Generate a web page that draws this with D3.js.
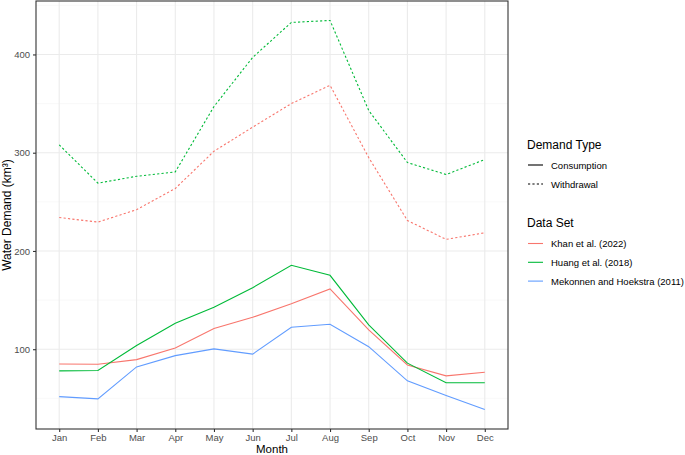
<!DOCTYPE html>
<html>
<head>
<meta charset="utf-8">
<script src="https://cdn.jsdelivr.net/npm/d3@7"></script>
<style>
  body { margin: 0; background: #fff; }
  text { font-family: "Liberation Sans", Arial, sans-serif; }
</style>
</head>
<body>
<svg width="685" height="455"></svg>
<script>
var months = ["Jan", "Feb", "Mar", "Apr", "May", "Jun", "Jul", "Aug", "Sep", "Oct", "Nov", "Dec"];
var datasets = ["Khan et al. (2022)", "Huang et al. (2018)", "Mekonnen and Hoekstra (2011)"];
var colors = ["#F8766D", "#00BA38", "#619CFF"];
var demandTypes = ["Consumption", "Withdrawal"];
var yTicks = [100, 200, 300, 400];

var khanConsumption = [85, 84.7, 89.4, 101.3, 121, 132.5, 146.3, 161.3, 119.6, 84, 72.9, 76.6];
var huangConsumption = [78, 78.3, 103.7, 126.4, 142.7, 162.6, 185.4, 175.2, 124.7, 85.8, 65.8, 65.8];
var mekonnenConsumption = [51.8, 49.5, 82, 93.5, 100.3, 95, 122.4, 125.4, 102.6, 67.8, 52.8, 38.6];
var khanWithdrawal = [234, 229.4, 242, 263.6, 301.5, 326, 350, 368.6, 295, 231, 211.8, 218.5];
var huangWithdrawal = [308, 269, 276, 280.5, 347, 397, 432.6, 434.6, 343, 290, 277.8, 293];

var series = [
  { set: 0, type: 1, values: khanWithdrawal },
  { set: 1, type: 1, values: huangWithdrawal },
  { set: 0, type: 0, values: khanConsumption },
  { set: 1, type: 0, values: huangConsumption },
  { set: 2, type: 0, values: mekonnenConsumption }
];

var svg = d3.select("svg");
var pLeft = 36, pRight = 508, pTop = 1, pBottom = 429;

var x = d3.scalePoint().domain(months).range([pLeft, pRight]).padding(0.6);
var allVals = [].concat(khanConsumption, huangConsumption, mekonnenConsumption, khanWithdrawal, huangWithdrawal);
var ymin = d3.min(allVals), ymax = d3.max(allVals), pad = (ymax - ymin) * 0.05;
var y = d3.scaleLinear().domain([ymin - pad, ymax + pad]).range([pBottom, pTop]);

// grid
var g = svg.append("g");
[50, 150, 250, 350, 450].forEach(function(v) {
  g.append("line").attr("x1", pLeft).attr("x2", pRight).attr("y1", y(v)).attr("y2", y(v))
    .attr("stroke", "#F5F5F5").attr("stroke-width", 0.6);
});
yTicks.forEach(function(v) {
  g.append("line").attr("x1", pLeft).attr("x2", pRight).attr("y1", y(v)).attr("y2", y(v))
    .attr("stroke", "#EBEBEB").attr("stroke-width", 1.1);
});
months.forEach(function(m) {
  g.append("line").attr("x1", x(m)).attr("x2", x(m)).attr("y1", pTop).attr("y2", pBottom)
    .attr("stroke", "#EBEBEB").attr("stroke-width", 1.1);
});

// lines
var line = d3.line().x(function(d, i) { return x(months[i]); }).y(function(d) { return y(d); });
svg.selectAll(".series")
  .data(series)
  .enter().append("path")
  .attr("class", "series")
  .attr("d", function(d) { return line(d.values); })
  .attr("fill", "none")
  .attr("stroke", function(d) { return colors[d.set]; })
  .attr("stroke-width", 1.1)
  .attr("stroke-dasharray", function(d) { return d.type === 1 ? "2.2,2.2" : null; });

// border
svg.append("rect").attr("x", pLeft).attr("y", pTop).attr("width", pRight - pLeft).attr("height", pBottom - pTop)
  .attr("fill", "none").attr("stroke", "#333333").attr("stroke-width", 1.1);

// axes
var xAxis = svg.append("g").attr("transform", "translate(0," + pBottom + ")")
  .call(d3.axisBottom(x).tickSize(3).tickPadding(2));
var yAxis = svg.append("g").attr("transform", "translate(" + pLeft + ",0)")
  .call(d3.axisLeft(y).tickValues(yTicks).tickSize(3).tickPadding(3));
[xAxis, yAxis].forEach(function(a) {
  a.select(".domain").remove();
  a.selectAll(".tick line").attr("stroke", "#333333").attr("stroke-width", 1.1);
  a.selectAll(".tick text").attr("fill", "#4D4D4D").style("font-size", "9.5px");
});

svg.append("text").attr("x", (pLeft + pRight) / 2).attr("y", 452.5)
  .attr("text-anchor", "middle").style("font-size", "11.5px").attr("fill", "#000").text("Month");
svg.append("text").attr("transform", "translate(11," + ((pTop + pBottom) / 2) + ") rotate(-90)")
  .attr("text-anchor", "middle").style("font-size", "12px").attr("fill", "#000").text("Water Demand (km³)");

// legend
var lg = svg.append("g").attr("transform", "translate(527,0)");
lg.append("text").attr("x", 0).attr("y", 149).style("font-size", "12px").text("Demand Type");
demandTypes.forEach(function(t, i) {
  var yy = 165 + i * 19;
  lg.append("line").attr("x1", 1).attr("x2", 16).attr("y1", yy).attr("y2", yy)
    .attr("stroke", "#000").attr("stroke-width", 1.1)
    .attr("stroke-dasharray", i === 1 ? "2.2,2.2" : null);
  lg.append("text").attr("x", 24).attr("y", yy + 3.5).style("font-size", "9.5px").text(t);
});
lg.append("text").attr("x", 0).attr("y", 227).style("font-size", "12px").text("Data Set");
datasets.forEach(function(t, i) {
  var yy = 243.5 + i * 18.8;
  lg.append("line").attr("x1", 1).attr("x2", 16).attr("y1", yy).attr("y2", yy)
    .attr("stroke", colors[i]).attr("stroke-width", 1.1);
  lg.append("text").attr("x", 24).attr("y", yy + 3.5).style("font-size", "9.5px").text(t);
});
</script>
</body>
</html>
